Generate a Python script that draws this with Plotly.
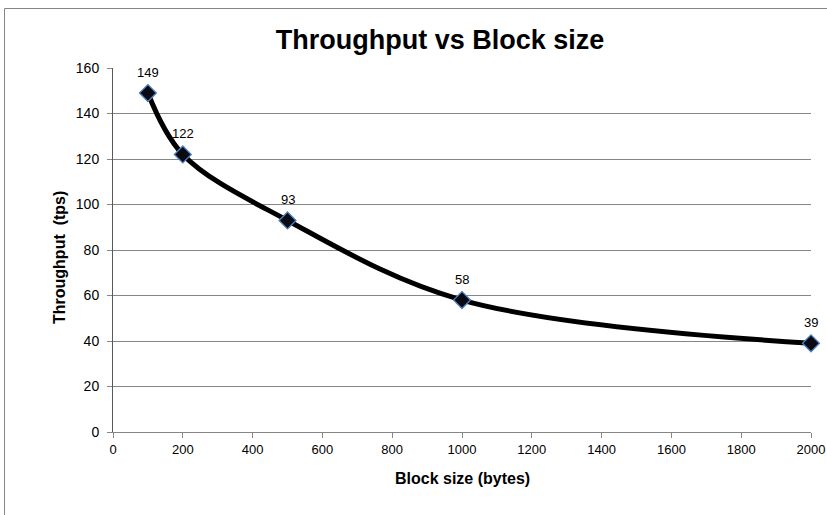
import plotly.graph_objects as go

block_size = [100, 200, 500, 1000, 2000]
throughput = [149, 122, 93, 58, 39]
labels = ["149", "122", "93", "58", "39"]

W, H = 827, 515
L, R, T, B = 113, 16, 68, 83
pw, ph = W - L - R, H - T - B

def px_x(p):
    return (p - L) / pw

def px_y(p):
    return (H - B - p) / ph

font_fam = "Liberation Sans, Arial, sans-serif"

fig = go.Figure()
fig.add_trace(go.Scatter(
    x=block_size, y=throughput,
    mode="lines+markers",
    line=dict(color="black", width=5, shape="spline", smoothing=1.0),
    marker=dict(symbol="diamond", size=13, color="#0a0a14",
                line=dict(color="#4f81bd", width=1.3)),
    cliponaxis=False,
    showlegend=False,
))

annotations = [
    dict(x=xv, y=yv, text=t, xref="x", yref="y", showarrow=False,
         yshift=21, font=dict(family=font_fam, size=13, color="#000000"))
    for xv, yv, t in zip(block_size, throughput, labels)
]
annotations.append(dict(text="<b>Throughput  (tps)</b>", xref="paper", yref="paper",
                        x=px_x(59), y=px_y(258), showarrow=False, textangle=-90,
                        xanchor="center", yanchor="middle",
                        font=dict(family=font_fam, size=16, color="#000000")))
annotations.append(dict(text="<b>Block size (bytes)</b>", xref="paper", yref="paper",
                        x=px_x(462), y=px_y(478), showarrow=False,
                        xanchor="center", yanchor="middle",
                        font=dict(family=font_fam, size=16, color="#000000")))

fig.update_layout(
    width=W, height=H,
    margin=dict(l=L, r=R, t=T, b=B, autoexpand=False),
    paper_bgcolor="white", plot_bgcolor="white",
    font=dict(family=font_fam, size=14, color="#000000"),
    title=dict(text="<b>Throughput vs Block size</b>",
               font=dict(family=font_fam, size=27, color="#000000"),
               x=440 / W, xanchor="center",
               y=1 - 40 / H, yanchor="middle"),
    xaxis=dict(range=[0, 2000], tickmode="linear", tick0=0, dtick=200,
               showgrid=False, zeroline=False, automargin=False,
               showline=True, linecolor="#868686", linewidth=1,
               ticks="outside", ticklen=5, tickcolor="#868686",
               ticklabeloverflow="allow",
               tickfont=dict(family=font_fam, size=13)),
    yaxis=dict(range=[0, 160], tickmode="linear", tick0=0, dtick=20,
               showgrid=True, gridcolor="#868686", gridwidth=1,
               zeroline=False, automargin=False,
               showline=True, linecolor="#595959", linewidth=1,
               ticks="outside", ticklen=5, tickcolor="#868686",
               ticklabelstandoff=5,
               tickfont=dict(family=font_fam, size=14)),
    annotations=annotations,
    shapes=[
        dict(type="line", xref="paper", yref="paper",
             x0=px_x(4.5), x1=px_x(830), y0=px_y(8.5), y1=px_y(8.5),
             line=dict(color="#868686", width=1)),
        dict(type="line", xref="paper", yref="paper",
             x0=px_x(4.5), x1=px_x(4.5), y0=px_y(8.5), y1=px_y(520),
             line=dict(color="#868686", width=1)),
    ],
)

fig.write_html(
    "out.html",
    config={"displayModeBar": False},
    post_script=(
        "document.body.style.margin='0';"
        "document.body.style.overflow='hidden';"
        "document.documentElement.style.overflow='hidden';"
    ),
)
